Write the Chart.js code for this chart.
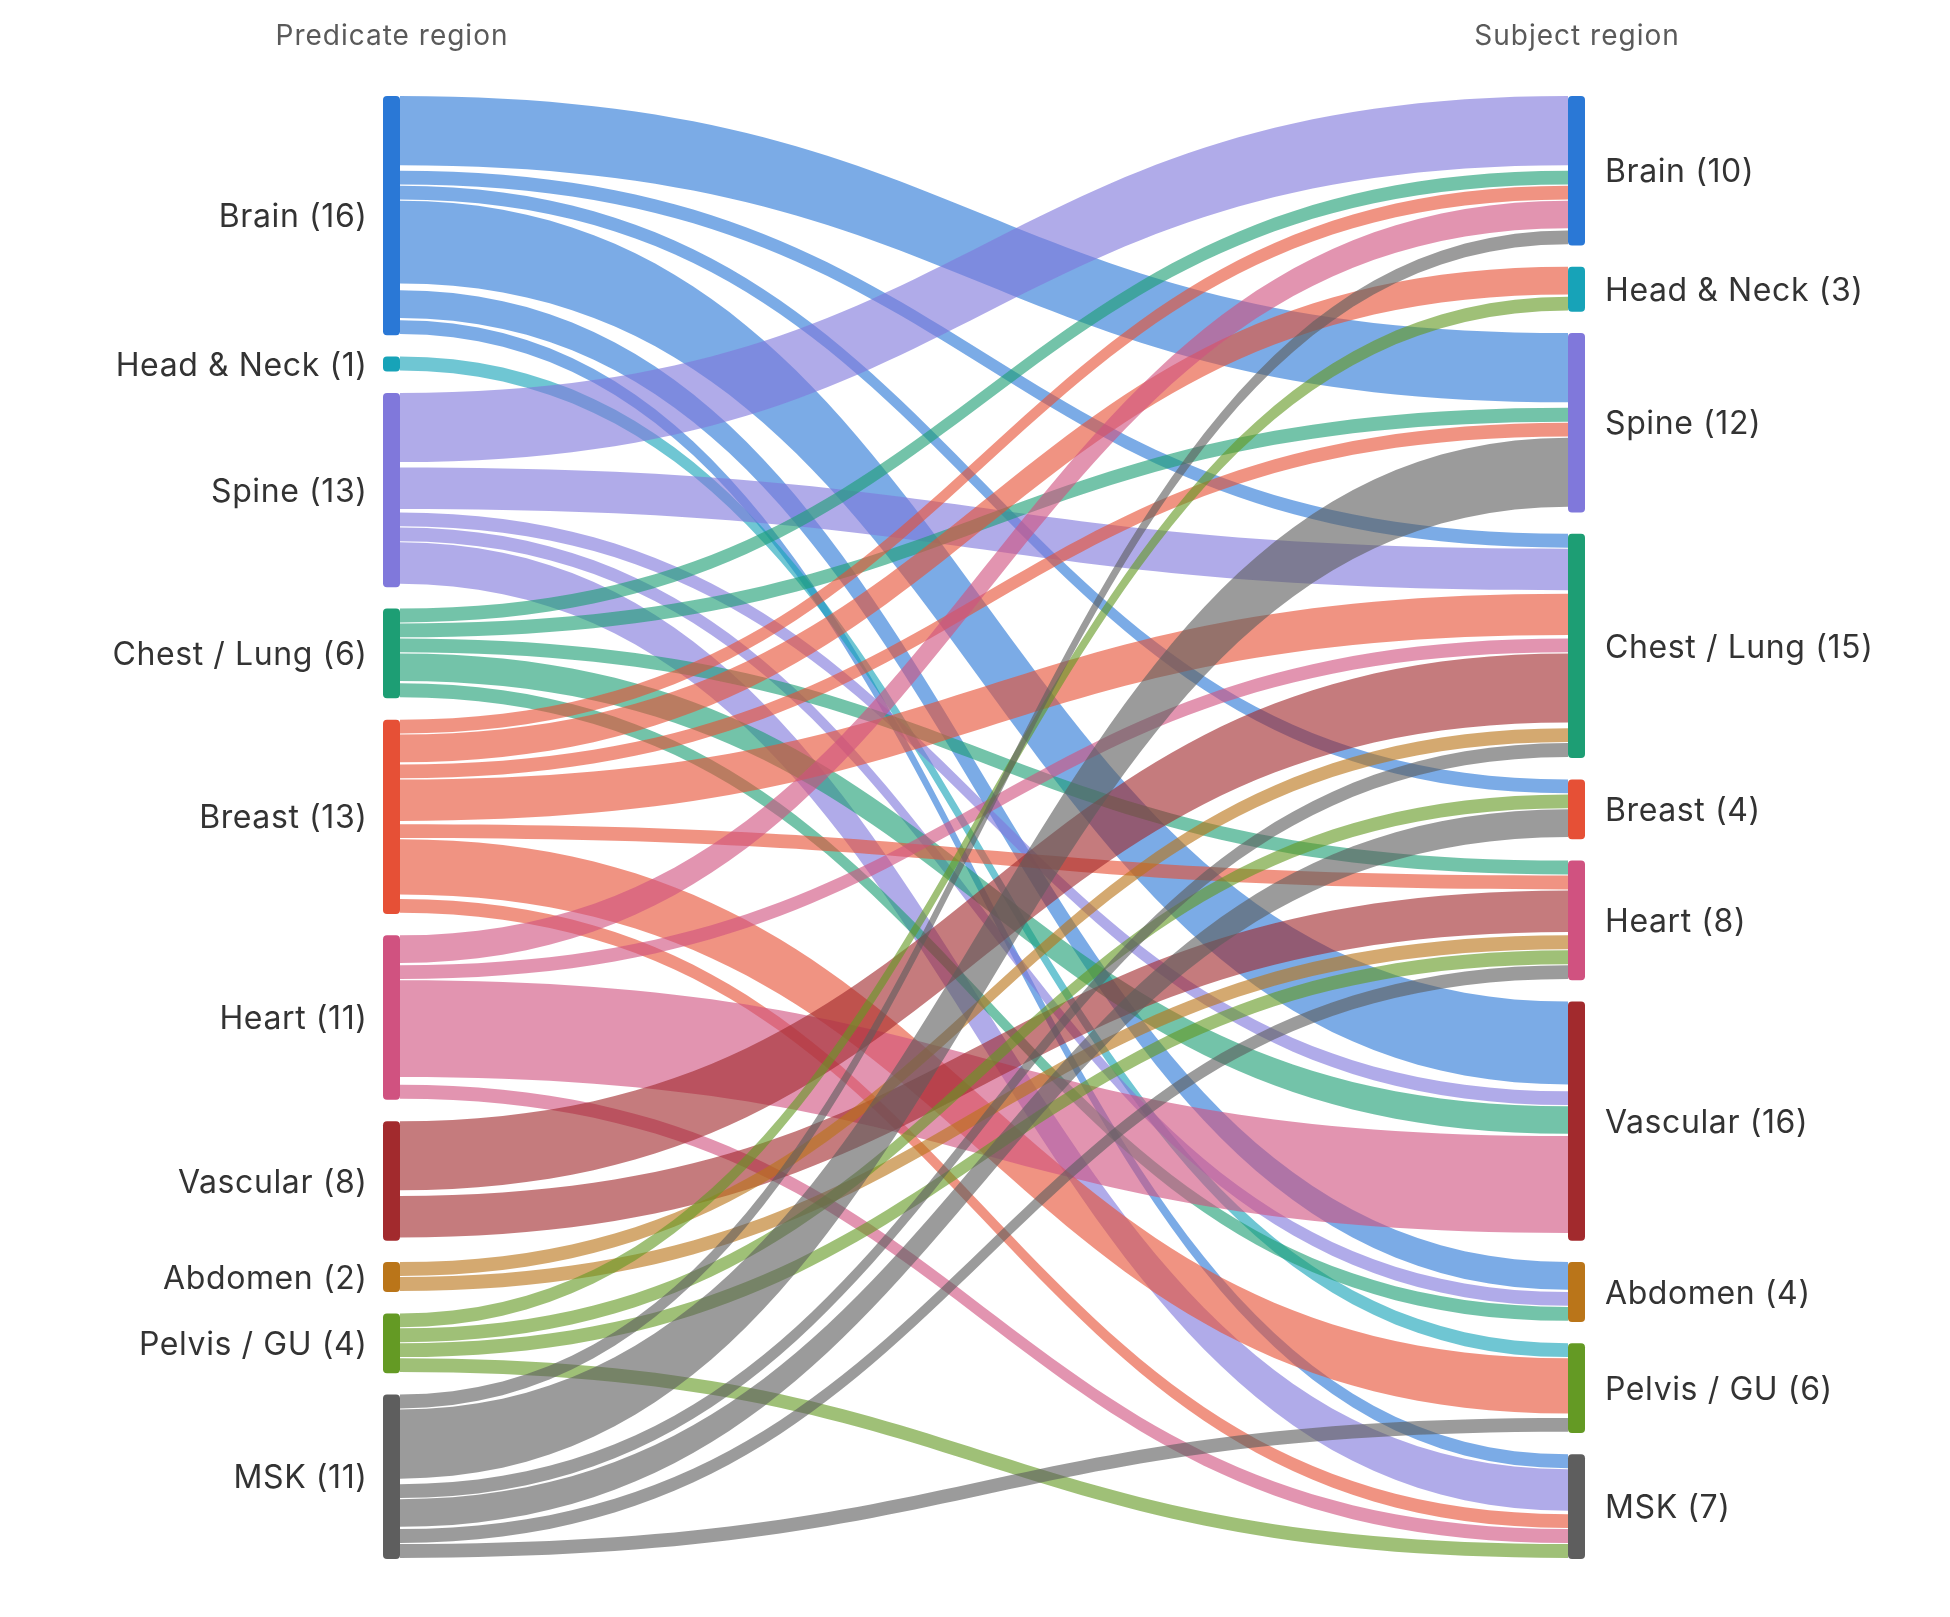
<!DOCTYPE html>
<html><head><meta charset="utf-8">
<script src="https://cdn.jsdelivr.net/npm/chart.js@4.4.1/dist/chart.umd.min.js"></script>
<style>html,body{margin:0;padding:0;background:#fff}#wrap{width:1950px;height:1617px;position:relative}</style>
</head><body><div id="wrap"><canvas id="c"></canvas></div>
<script>
// ---- data ----
const regions = ['Brain','Head & Neck','Spine','Chest / Lung','Breast','Heart','Vascular','Abdomen','Pelvis / GU','MSK'];
const regionColors = ['#2a78d6','#17a3b8','#8078db','#1d9e74','#e65036','#d05280','#a22a2d','#ba7519','#649a24','#5e5e5e'];
const leftTitle = 'Predicate region';
const rightTitle = 'Subject region';
// links: predicate region index -> subject region index, count
const linkFrom  = [0,0,0,0,0,0, 1, 2,2,2,2,2, 3,3,3,3,3, 4,4,4,4,4,4,4, 5,5,5,5, 6,6, 7,7, 8,8,8,8, 9,9,9,9,9,9];
const linkTo    = [2,3,4,6,7,9, 8, 0,3,6,7,9, 0,2,5,6,7, 0,1,2,3,5,8,9, 0,3,6,9, 3,5, 3,5, 1,4,5,9, 0,2,3,4,5,8];
const linkValue = [5,1,1,6,2,1, 1, 5,3,1,1,3, 1,1,1,2,1, 1,2,1,3,1,4,1, 2,1,7,1, 5,3, 1,1, 1,1,1,1, 1,5,1,2,1,1];

// ---- layout (value units) ----
const NODE_PAD = 1.43;     // gap between nodes, in value units
const NODE_W = 17;         // px
const FLOW_FILL = 0.925;   // fraction of slot actually painted
const n = regions.length;
const leftTot = new Array(n).fill(0), rightTot = new Array(n).fill(0);
linkValue.forEach((v,i)=>{ leftTot[linkFrom[i]] += v; rightTot[linkTo[i]] += v; });
function stack(tot){ const s=[]; let y=0; tot.forEach(t=>{ s.push(y); y+=t+NODE_PAD; }); return s; }
const leftStart = stack(leftTot), rightStart = stack(rightTot);
const grand = leftTot.reduce((a,b)=>a+b,0);
const yMax = grand + (n-1)*NODE_PAD;
const order = linkValue.map((_,i)=>i);
const srcY = [], dstY = [];
{ const cur = leftStart.slice();
  order.slice().sort((a,b)=>linkFrom[a]-linkFrom[b]||linkTo[a]-linkTo[b]).forEach(i=>{ srcY[i]=cur[linkFrom[i]]; cur[linkFrom[i]]+=linkValue[i]; });
  const cur2 = rightStart.slice();
  order.slice().sort((a,b)=>linkTo[a]-linkTo[b]||linkFrom[a]-linkFrom[b]).forEach(i=>{ dstY[i]=cur2[linkTo[i]]; cur2[linkTo[i]]+=linkValue[i]; });
}
function rgba(hex,a){ const r=parseInt(hex.slice(1,3),16),g=parseInt(hex.slice(3,5),16),b=parseInt(hex.slice(5,7),16); return `rgba(${r},${g},${b},${a})`; }
function rrect(ctx,x,y,w,h,r){ r=Math.min(r,h/2,w/2); ctx.beginPath(); ctx.moveTo(x+r,y); ctx.lineTo(x+w-r,y); ctx.quadraticCurveTo(x+w,y,x+w,y+r); ctx.lineTo(x+w,y+h-r); ctx.quadraticCurveTo(x+w,y+h,x+w-r,y+h); ctx.lineTo(x+r,y+h); ctx.quadraticCurveTo(x,y+h,x,y+h-r); ctx.lineTo(x,y+r); ctx.quadraticCurveTo(x,y,x+r,y); ctx.closePath(); }

const sankeyPlugin = {
  id:'sankey',
  afterDraw(chart){
    const ctx = chart.ctx, xs = chart.scales.x, ys = chart.scales.y;
    const xL = xs.getPixelForValue(0), xR = xs.getPixelForValue(1);
    const x0 = xL + NODE_W, x1 = xR - NODE_W, xm = (x0+x1)/2;
    ctx.save();
    order.forEach(i=>{
      const v = linkValue[i]*FLOW_FILL;
      const a0 = ys.getPixelForValue(srcY[i]), b0 = ys.getPixelForValue(srcY[i]+v);
      const a1 = ys.getPixelForValue(dstY[i]), b1 = ys.getPixelForValue(dstY[i]+v);
      ctx.beginPath();
      ctx.moveTo(x0,a0);
      ctx.bezierCurveTo(xm,a0,xm,a1,x1,a1);
      ctx.lineTo(x1,b1);
      ctx.bezierCurveTo(xm,b1,xm,b0,x0,b0);
      ctx.closePath();
      ctx.fillStyle = rgba(regionColors[linkFrom[i]],0.62);
      ctx.fill();
    });
    for(let k=0;k<n;k++){
      ctx.fillStyle = regionColors[k];
      const t0=ys.getPixelForValue(leftStart[k]), t1=ys.getPixelForValue(leftStart[k]+leftTot[k]);
      rrect(ctx,xL,t0,NODE_W,t1-t0,4); ctx.fill();
      const r0=ys.getPixelForValue(rightStart[k]), r1=ys.getPixelForValue(rightStart[k]+rightTot[k]);
      rrect(ctx,x1,r0,NODE_W,r1-r0,4); ctx.fill();
    }
    ctx.font = '400 32px Inter, "Open Sans", sans-serif';
    ctx.letterSpacing = '0.6px';
    ctx.fillStyle = '#333333';
    ctx.textBaseline = 'middle';
    for(let k=0;k<n;k++){
      const lm = ys.getPixelForValue(leftStart[k]+leftTot[k]/2) + 2;
      ctx.textAlign='right'; ctx.fillText(`${regions[k]} (${leftTot[k]})`, xL-15.4, lm);
      const rm = ys.getPixelForValue(rightStart[k]+rightTot[k]/2) + 2;
      ctx.textAlign='left'; ctx.fillText(`${regions[k]} (${rightTot[k]})`, xR+20, rm);
    }
    ctx.font = '400 28px Inter, "Open Sans", sans-serif';
    ctx.letterSpacing = '1px';
    ctx.fillStyle = '#5a5a5a';
    ctx.textAlign='center'; ctx.textBaseline='alphabetic';
    ctx.fillText(leftTitle, xL+NODE_W/2+0.5, 45);
    ctx.fillText(rightTitle, xR-NODE_W/2+0.5, 45);
    ctx.restore();
  }
};

new Chart(document.getElementById('c'), {
  type:'scatter',
  data:{datasets:[]},
  options:{
    responsive:true, maintainAspectRatio:false, animation:false,
    layout:{padding:{top:96,bottom:58,left:383,right:365}},
    scales:{
      x:{type:'linear',display:false,min:0,max:1},
      y:{type:'linear',display:false,min:0,max:yMax,reverse:true}
    },
    plugins:{legend:{display:false},tooltip:{enabled:false}}
  },
  plugins:[sankeyPlugin]
});
</script>
</body></html>
